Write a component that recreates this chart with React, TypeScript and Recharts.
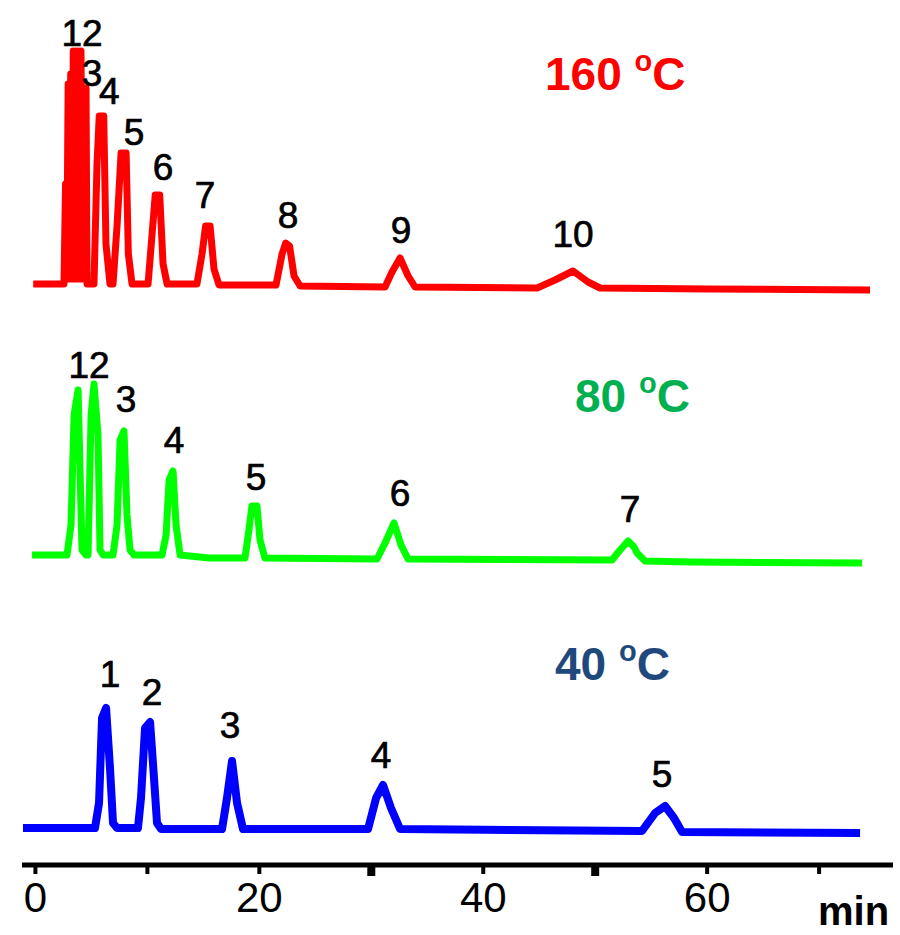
import { LineChart, Line, XAxis, YAxis, ReferenceDot } from "recharts";

// retention time (min) vs detector signal, each trace relative to its own baseline
const redTrace: [number, number][] = [
  [-0.2, 0], [2.4, 0], [2.55, 0], [2.69, 100], [2.8, 5], [2.92, 200], [3.03, 5], [3.15, 210],
  [3.26, 5], [3.38, 233], [3.49, 5], [3.61, 233], [3.72, 5], [3.84, 233], [3.95, 5], [4.07, 233],
  [4.18, 5], [4.3, 196], [4.41, 5], [4.52, 196], [4.61, 0],
  [5.23, 0], [5.5, 120], [5.7, 168], [6.1, 168], [6.3, 40], [6.66, 0],
  [6.93, 0], [7.3, 60], [7.65, 131], [8.1, 131], [8.3, 30], [8.63, 0],
  [10.06, 0], [10.42, 50], [10.7, 89], [11.1, 89], [11.4, 20], [11.76, 0],
  [14.43, 0], [14.88, 30], [15.2, 58], [15.6, 58], [15.95, 15], [16.4, -1],
  [21.49, -1], [22.03, 30], [22.35, 41], [22.7, 38], [23.1, 8], [23.64, -2],
  [31.23, -3], [31.85, 12], [32.57, 26], [33.29, 8], [33.91, -3],
  [44.81, -4], [46.41, 4], [48.02, 13], [49.36, 2], [50.43, -4],
  [60, -5], [74.55, -6],
];

const greenTrace: [number, number][] = [
  [-0.3, 0], [2.82, 0], [3.18, 30], [3.45, 140], [3.81, 165], [4.16, 5], [4.52, 0],
  [4.7, 0], [4.97, 140], [5.23, 171], [5.59, 120], [5.77, 5], [6.04, 0],
  [6.93, 0], [7.29, 30], [7.56, 115], [7.91, 124], [8.18, 40], [8.45, 5], [8.81, 0],
  [11.31, 0], [11.67, 20], [11.94, 75], [12.29, 84], [12.56, 30], [12.92, 0],
  [15.5, -3], [18.72, -3], [19.07, 25], [19.34, 49], [19.79, 49], [20.06, 15], [20.5, -3],
  [30.51, -4], [31.23, 12], [32.03, 32], [32.66, 10], [33.28, -4],
  [51.5, -5], [52.22, 5], [52.94, 14], [53.47, 8], [53.74, 2], [54.45, -6],
  [58.5, -7], [73.84, -8],
];

const blueTrace: [number, number][] = [
  [-1.11, 0], [5.32, 0], [5.68, 25], [5.95, 110], [6.31, 120], [6.66, 60], [6.93, 5], [7.29, 0],
  [9.16, 0], [9.43, 30], [9.79, 100], [10.24, 106], [10.59, 50], [10.86, 5], [11.22, -1],
  [16.67, -1], [17.11, 30], [17.56, 67], [18.01, 25], [18.54, -1],
  [29.71, -1], [30.43, 30], [31.05, 43], [31.76, 20], [32.57, -1],
  [54.18, -3], [55.35, 15], [56.24, 22], [57.04, 10], [57.76, -4],
  [73.66, -5],
];

// peak numbers: label, time, signal level of the label's foot
const redPeaks = [
  { name: "12", t: 4.16, h: 238 },
  { name: "3", t: 5.05, h: 198 },
  { name: "4", t: 6.6, h: 180 },
  { name: "5", t: 8.81, h: 139 },
  { name: "6", t: 11.4, h: 104 },
  { name: "7", t: 15.15, h: 76 },
  { name: "8", t: 22.56, h: 56 },
  { name: "9", t: 32.66, h: 41 },
  { name: "10", t: 48.02, h: 37 },
];
const greenPeaks = [
  { name: "12", t: 4.79, h: 177 },
  { name: "3", t: 8.09, h: 143 },
  { name: "4", t: 12.38, h: 102 },
  { name: "5", t: 19.7, h: 65 },
  { name: "6", t: 32.57, h: 49 },
  { name: "7", t: 53.11, h: 33 },
];
const bluePeaks = [
  { name: "1", t: 6.66, h: 141 },
  { name: "2", t: 10.41, h: 123 },
  { name: "3", t: 17.38, h: 90 },
  { name: "4", t: 30.87, h: 60 },
  { name: "5", t: 55.97, h: 41 },
];

const timeTicks = [0, 10, 20, 30, 40, 50, 60, 70];

const FONT = '"Liberation Sans", Arial, Helvetica, sans-serif';

const toRows = (trace: [number, number][]) => trace.map(([t, h]) => ({ t, h }));

function TimeTick({ x, y, payload }: any) {
  const v = payload.value;
  const big = v === 30 || v === 50;
  return (
    <g>
      <rect x={x - (big ? 4 : 2)} y={y} width={big ? 8 : 4} height={big ? 11 : 9} fill="#000" />
      {v % 20 === 0 && (
        <text x={x} y={y + 47} textAnchor="middle" fontSize={42} fontFamily={FONT} fill="#000">
          {v}
        </text>
      )}
    </g>
  );
}

function peakDots(peaks: { name: string; t: number; h: number }[], axis: string) {
  return peaks.map((p) => (
    <ReferenceDot
      key={axis + p.name}
      x={p.t}
      y={p.h}
      yAxisId={axis}
      r={0}
      fill="none"
      stroke="none"
      label={{
        value: p.name,
        position: "top",
        offset: 0,
        fontSize: 37,
        fontFamily: FONT,
        fill: "#000",
        stroke: "#000",
        strokeWidth: 0.7,
      }}
    />
  ));
}

export default function App() {
  return (
    <div style={{ position: "absolute", left: 0, top: 0, width: 900, height: 935, background: "#fff" }}>
      <LineChart width={900} height={935} margin={{ top: 0, right: 7, bottom: 0, left: 22 }}>
        <XAxis
          type="number"
          dataKey="t"
          domain={[-1.2, 76.6]}
          allowDataOverflow
          ticks={timeTicks}
          tick={<TimeTick />}
          tickLine={false}
          tickSize={0}
          tickMargin={0}
          height={70}
          axisLine={{ stroke: "#000", strokeWidth: 5 }}
        />
        <YAxis yAxisId="red" hide domain={[-581, 284]} allowDataOverflow />
        <YAxis yAxisId="green" hide domain={[-310, 555]} allowDataOverflow />
        <YAxis yAxisId="blue" hide domain={[-37, 828]} allowDataOverflow />
        <Line
          yAxisId="red"
          data={toRows(redTrace)}
          dataKey="h"
          stroke="#ff0000"
          strokeWidth={7}
          strokeLinejoin="round"
          dot={false}
          isAnimationActive={false}
        />
        <Line
          yAxisId="green"
          data={toRows(greenTrace)}
          dataKey="h"
          stroke="#00ff00"
          strokeWidth={7}
          strokeLinejoin="round"
          dot={false}
          isAnimationActive={false}
        />
        <Line
          yAxisId="blue"
          data={toRows(blueTrace)}
          dataKey="h"
          stroke="#0000ff"
          strokeWidth={8}
          strokeLinejoin="round"
          dot={false}
          isAnimationActive={false}
        />
        {peakDots(redPeaks, "red")}
        {peakDots(greenPeaks, "green")}
        {peakDots(bluePeaks, "blue")}
      </LineChart>
      <svg width={900} height={935} style={{ position: "absolute", left: 0, top: 0, pointerEvents: "none" }}>
        <g fontFamily={FONT} fontWeight="bold" fontSize={46}>
          <text x={545} y={90} fill="#ff0000">
            160 <tspan fontSize={29} dy={-19}>o</tspan>
            <tspan dy={19}>C</tspan>
          </text>
          <text x={575} y={412} fill="#00b050">
            80 <tspan fontSize={29} dy={-19}>o</tspan>
            <tspan dy={19}>C</tspan>
          </text>
          <text x={555} y={680} fill="#1f497d">
            40 <tspan fontSize={29} dy={-19}>o</tspan>
            <tspan dy={19}>C</tspan>
          </text>
          <text x={818} y={925} fill="#000" fontSize={40}>
            min
          </text>
        </g>
      </svg>
    </div>
  );
}
